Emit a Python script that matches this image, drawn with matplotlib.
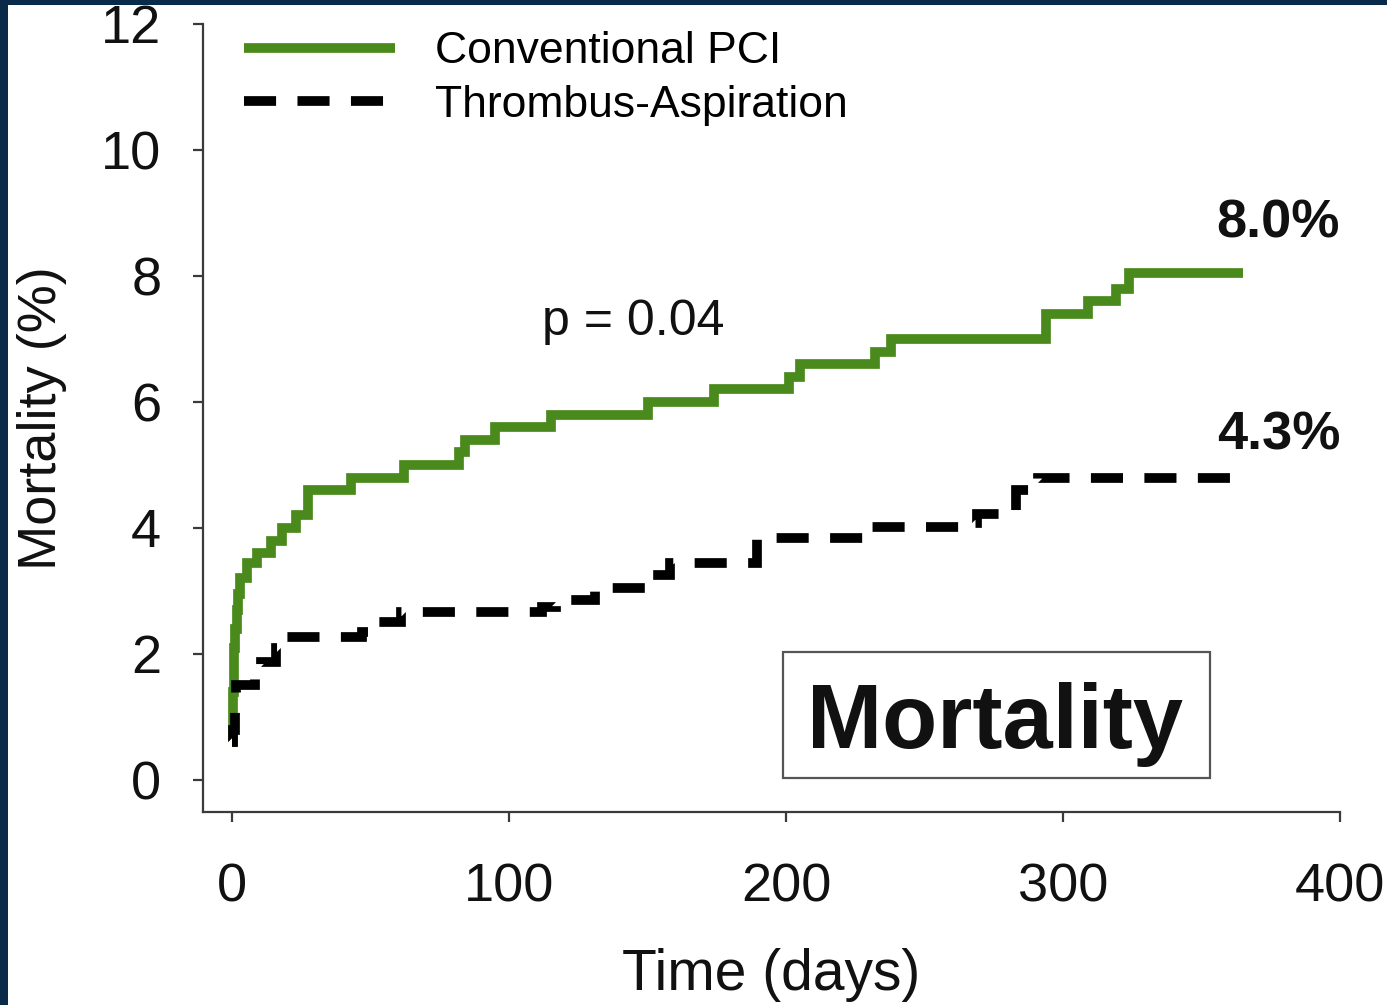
import matplotlib
matplotlib.use("Agg")
import matplotlib.pyplot as plt
from matplotlib.lines import Line2D
from matplotlib.patches import Rectangle

plt.rcParams['font.family'] = ['Liberation Sans', 'DejaVu Sans']

# ---- data ----
conv_days = [0, 0.2, 0.4, 0.6, 0.8, 1.2, 1.7, 2.2, 2.9, 5.3, 8.9, 14, 18, 23, 27.5,
             43, 62, 82, 84, 95, 115, 150, 174, 201, 205, 232, 238, 294, 309, 319, 324, 365]
conv_vals = [0.6, 1.0, 1.4, 1.8, 2.1, 2.4, 2.7, 2.95, 3.2, 3.45, 3.6, 3.8, 4.0, 4.2, 4.6,
             4.8, 5.0, 5.2, 5.4, 5.6, 5.8, 6.0, 6.2, 6.4, 6.6, 6.8, 7.0, 7.4, 7.6, 7.8, 8.05, 8.05]

asp_days = [0, 0.5, 1.0, 1.5, 8.3, 10.5, 16, 20, 47, 52, 61, 112, 117, 131, 151, 158,
            189.5, 230, 264, 269, 283, 291, 361]
asp_vals = [0.6, 0.8, 1.1, 1.5, 1.7, 1.87, 2.1, 2.27, 2.35, 2.5, 2.67, 2.75, 2.86, 3.05, 3.25, 3.44,
            3.84, 4.02, 4.08, 4.23, 4.6, 4.8, 4.8]

series_labels = ['Conventional PCI', 'Thrombus-Aspiration']
x_ticks = [0, 100, 200, 300, 400]
y_ticks = [0, 2, 4, 6, 8, 10, 12]
end_labels = ['8.0%', '4.3%']
p_text = 'p = 0.04'
box_text = 'Mortality'

GREEN = '#4a8a1d'
LW = 7
DASH = (3.3, 2.2)

W, H = 1387, 1005
fig = plt.figure(figsize=(W / 100, H / 100), dpi=100)
fig.patch.set_facecolor('#0a2a4a')
fig.patches.append(Rectangle((8 / W, 0), 1, 1 - 5 / H, transform=fig.transFigure,
                             facecolor='white', edgecolor='none', zorder=-5))

ax = fig.add_axes([203 / W, 193 / H, (1340 - 203) / W, (812 - 24) / H])
ax.set_zorder(2)
ax.set_facecolor('white')

ax.plot(conv_days, conv_vals, drawstyle='steps-post', color=GREEN, lw=LW,
        solid_capstyle='butt', solid_joinstyle='miter', label=series_labels[0])
ax.plot(asp_days, asp_vals, drawstyle='steps-post', color='black', lw=LW,
        dashes=DASH, dash_capstyle='butt', dash_joinstyle='miter', label=series_labels[1])

ax.set_xlim(-10.47, 400)
ax.set_ylim(-0.508, 12)
ax.set_xticks(x_ticks)
ax.set_yticks(y_ticks)
for s in ['top', 'right']:
    ax.spines[s].set_visible(False)
for s in ['left', 'bottom']:
    ax.spines[s].set_color('#3a3a3a')
    ax.spines[s].set_linewidth(1.6)
ax.tick_params(axis='both', direction='out', length=7, width=1.6, color='#3a3a3a',
               labelsize=39, labelcolor='#111111')
ax.tick_params(axis='x', pad=29)
ax.tick_params(axis='y', pad=23)

ax.set_xlabel('Time (days)', fontsize=41, color='#111111', va='center')
ax.xaxis.set_label_coords(0.5, -0.207)
ax.set_ylabel('Mortality (%)', fontsize=39, color='#111111', va='center')
ax.yaxis.set_label_coords((42 - 203) / (1340 - 203), 0.5)

handles = [Line2D([], [], color=GREEN, lw=LW, solid_capstyle='butt'),
           Line2D([], [], color='black', lw=LW, dashes=DASH, dash_capstyle='butt')]
ax.legend(handles, series_labels, loc='upper left', bbox_to_anchor=(0.036, 0.991),
          frameon=False, fontsize=32, handlelength=3.4, handletextpad=0.9,
          labelspacing=0.28, borderpad=0, borderaxespad=0)

ax.text((633 - 203) / 1137, (812 - 335) / 788, p_text, transform=ax.transAxes,
        ha='center', va='baseline', fontsize=36, color='#111111')
ax.text((1278 - 203) / 1137, (812 - 238) / 788, end_labels[0], transform=ax.transAxes,
        ha='center', va='baseline', fontsize=39, fontweight='bold', color='#111111')
ax.text((1279 - 203) / 1137, (812 - 450) / 788, end_labels[1], transform=ax.transAxes,
        ha='center', va='baseline', fontsize=39, fontweight='bold', color='#111111')

ax.add_patch(Rectangle(((783 - 203) / 1137, (812 - 778) / 788),
                       (1210 - 783) / 1137, (778 - 652) / 788, transform=ax.transAxes,
                       facecolor='white', edgecolor='#555555', lw=1.6, zorder=3))
ax.text((995.5 - 203) / 1137, (812 - 748) / 788, box_text, transform=ax.transAxes,
        ha='center', va='baseline', fontsize=65, fontweight='bold', color='#111111', zorder=4)

fig.savefig('out.png', dpi=100, facecolor=fig.get_facecolor())
